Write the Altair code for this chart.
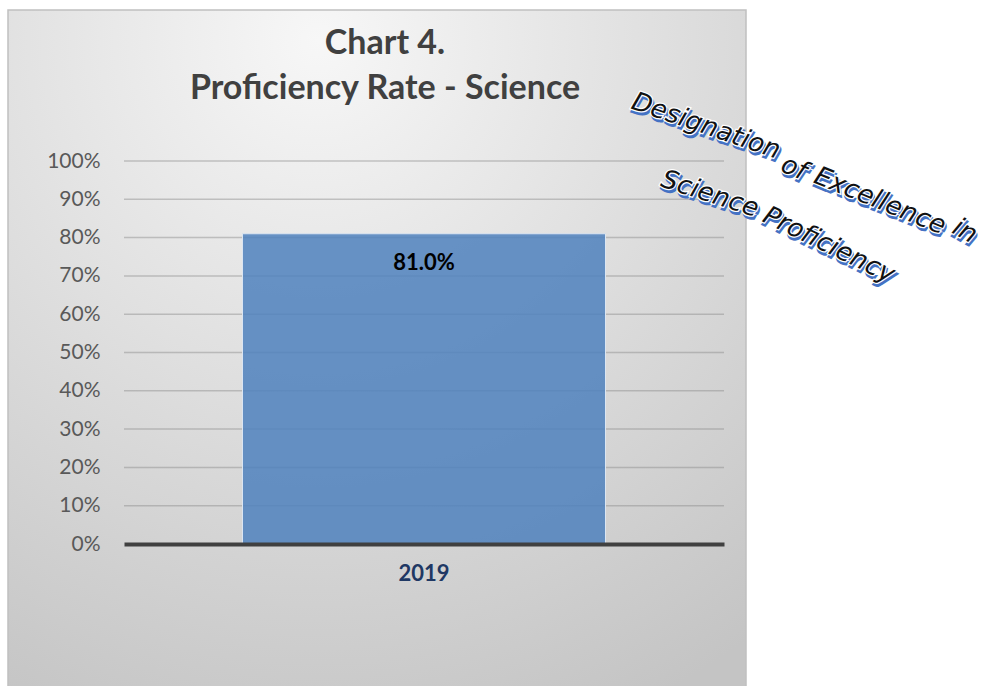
import altair as alt
import pandas as pd

# ---- data ----
categories = ["2019"]
values = [0.81]
y_ticks = [0.0, 0.1, 0.2, 0.3, 0.4, 0.5, 0.6, 0.7, 0.8, 0.9, 1.0]
title_lines = ["Chart 4.", "Proficiency Rate - Science"]
wordart_words = ["Designation", "of", "Excellence", "in", "Science", "Proficiency"]

# ---- layout (plot area origin in page pixels) ----
OX, OY = 124, 161
W, H = 600, 383

df = pd.DataFrame({"year": categories, "value": values})
grid_df = pd.DataFrame({"value": y_ticks[1:]})

yscale = alt.Scale(domain=[0, 1], nice=False, zero=True)
xscale = alt.Scale(paddingInner=0, paddingOuter=0.3264)
yaxis = alt.Axis(
    title=None, values=y_ticks, format=".0%", labelFont="Lato",
    labelFontSize=21, labelColor="#595959", labelPadding=24,
    labelOverlap=False, ticks=False, domain=False, grid=False, zindex=1,
)
xaxis = alt.Axis(
    title=None, labelFont="Lato", labelFontSize=22, labelFontWeight="bold",
    labelColor="#1f3864", labelPadding=19, labelAngle=0, ticks=False,
    domainColor="#404040", domainWidth=4, grid=False, zindex=1,
)

one = pd.DataFrame({"k": [0]})

bg = alt.Chart(one).mark_rect(
    fill={
        "gradient": "radial",
        "x1": 0.42, "y1": 0.08, "r1": 0,
        "x2": 0.42, "y2": 0.08, "r2": 1.0,
        "stops": [
            {"offset": 0, "color": "#f7f7f7"},
            {"offset": 1, "color": "#c4c4c4"},
        ],
    },
    stroke="#c0c0c0",
    strokeWidth=1.5,
).encode(
    x=alt.value(8 - OX), x2=alt.value(746 - OX),
    y=alt.value(10 - OY), y2=alt.value(690 - OY),
)

grid = alt.Chart(grid_df).mark_rule(color="#8a8a8a", opacity=0.45, strokeWidth=1.5).encode(
    y=alt.Y("value:Q", scale=yscale, axis=yaxis),
    x=alt.value(0), x2=alt.value(W),
)

bars = alt.Chart(df).mark_bar(
    color="#4f81bd", fillOpacity=0.85, stroke="#dce6f2", strokeWidth=1
).encode(
    x=alt.X("year:N", scale=xscale, axis=xaxis),
    y=alt.Y("value:Q", scale=yscale, axis=yaxis),
)

labels = alt.Chart(df).mark_text(
    font="Lato", fontSize=22, fontWeight="bold", color="#000000",
    baseline="middle", dy=29,
).encode(
    x=alt.X("year:N", scale=xscale, axis=xaxis),
    y=alt.Y("value:Q", scale=yscale, axis=yaxis),
    text=alt.Text("value:Q", format=".1%"),
)

title_layers = []
for line, yb in zip(title_lines, [54, 99]):
    title_layers.append(
        alt.Chart(pd.DataFrame({"t": [line]})).mark_text(
            font="Lato", fontSize=34, fontWeight="bold", color="#404040",
            align="center", baseline="alphabetic",
        ).encode(x=alt.value(385 - OX), y=alt.value(yb - OY), text="t:N")
    )

# word art: (center x, center y, angle) in page pixels
word_pos = [(706, 126, 19), (794, 168, 23), (880, 201, 22), (965, 231, 29),
            (710, 194, 18), (829, 245, 26)]
wa_layers = []
for word, (cx, cy, ang) in zip(wordart_words, word_pos):
    wdf = pd.DataFrame({"t": [word]})
    common = dict(font="DejaVu Sans", fontSize=26, fontStyle="italic",
                  align="center", baseline="middle", angle=ang)
    enc = dict(x=alt.value(cx - OX), y=alt.value(cy - OY), text="t:N")
    wa_layers.append(alt.Chart(wdf).mark_text(
        color="#4472c4", stroke="#4472c4", strokeWidth=2.5, dx=2, dy=2.5, **common
    ).encode(**enc))
    wa_layers.append(alt.Chart(wdf).mark_text(
        color="#ffffff", stroke="#ffffff", strokeWidth=2.5, **common
    ).encode(**enc))
    wa_layers.append(alt.Chart(wdf).mark_text(
        color="#111111", **common
    ).encode(**enc))

chart = alt.layer(bg, grid, bars, labels, *title_layers, *wa_layers).properties(
    width=W, height=H,
    autosize=alt.AutoSizeParams(type="none"),
    padding={"left": OX, "top": OY, "right": 992 - OX - W, "bottom": 686 - OY - H},
    background="#ffffff",
).configure_view(stroke=None)

chart.save("out.html", embed_options={"renderer": "svg", "actions": False})
